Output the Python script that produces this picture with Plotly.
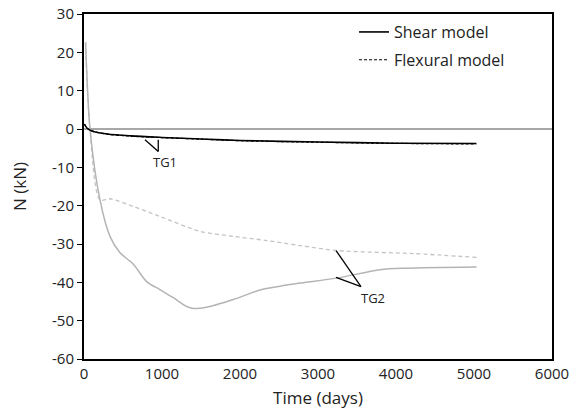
import plotly.graph_objects as go

# TG1 (black)
tg1_shear_x = [5, 40, 100, 300, 600, 1000, 1500, 2000, 3000, 4000, 5030]
tg1_shear_y = [1.3, 0.2, -0.5, -1.3, -1.8, -2.2, -2.6, -3.0, -3.4, -3.7, -3.8]
tg1_flex_x = [5, 40, 100, 300, 600, 1000, 1500, 2000, 3000, 4000, 5030]
tg1_flex_y = [1.3, 0.2, -0.5, -1.35, -1.85, -2.25, -2.65, -3.05, -3.45, -3.75, -3.9]

# TG2 (grey)
tg2_shear_x = [20, 77, 205, 333, 462, 630, 803, 974, 1145, 1316, 1402, 1573, 1914,
               2256, 2513, 2769, 3239, 3795, 4137, 5034]
tg2_shear_y = [22.6, 0, -18.5, -28, -32.3, -35.2, -39.8, -41.9, -44, -46.3, -46.8, -46.5, -44.5,
               -42.0, -41.0, -40.2, -38.9, -36.7, -36.3, -36.0]
tg2_flex_x = [20, 77, 205, 333, 630, 974, 1487, 1914, 2342, 2769, 3239, 4222, 5034]
tg2_flex_y = [22.6, 0, -18.5, -18.2, -20.2, -22.8, -26.7, -28, -29.1, -30.4, -31.7, -32.5, -33.5]

x_ticks = [0, 1000, 2000, 3000, 4000, 5000, 6000]
y_ticks = [30, 20, 10, 0, -10, -20, -30, -40, -50, -60]
y_tick_text = ["30", "20", "10", "0", "-10", "-20", "-30", "-40", "-50", "-60"]

FONT = "Open Sans"
fig = go.Figure()

fig.add_trace(go.Scatter(x=tg2_flex_x, y=tg2_flex_y, mode="lines", line=dict(color="#c4c4c4", width=1.3, dash="4px,3px", shape="spline", smoothing=0.8), showlegend=False))
fig.add_trace(go.Scatter(x=tg2_shear_x, y=tg2_shear_y, mode="lines", line=dict(color="#b4b4b4", width=1.5, shape="spline", smoothing=0.8), showlegend=False))
fig.add_trace(go.Scatter(x=tg1_shear_x, y=tg1_shear_y, mode="lines", name="Shear model", legendgroup="a", line=dict(color="black", width=1.6, shape="spline", smoothing=0.8)))
fig.add_trace(go.Scatter(x=tg1_flex_x, y=tg1_flex_y, mode="lines", name="Flexural model", legendgroup="b", line=dict(color="black", width=1.2, dash="3px,2px", shape="spline", smoothing=0.8)))

# leader lines for labels
lines = [
    ((782, -2.8), (952, -5.85)),
    ((952, -2.8), (952, -5.85)),
    ((3231, -31.7), (3551, -41.1)),
    ((3231, -38.7), (3551, -41.1)),
]
for (x0, y0), (x1, y1) in lines:
    fig.add_shape(type="line", x0=x0, y0=y0, x1=x1, y1=y1, xref="x", yref="y", line=dict(color="black", width=1.3))

fig.add_annotation(x=952, y=-5.85, text="TG1", showarrow=False, yanchor="top", xanchor="left", xshift=-7, yshift=0, font=dict(family=FONT, size=13, color="#222"))
fig.add_annotation(x=3551, y=-41.1, text="TG2", showarrow=False, yanchor="top", xanchor="left", xshift=-2, yshift=0, font=dict(family=FONT, size=13, color="#222"))

fig.update_layout(
    width=582, height=413,
    margin=dict(l=84, r=30, t=14, b=54, autoexpand=False),
    paper_bgcolor="white", plot_bgcolor="white",
    font=dict(family=FONT, size=15, color="#222"),
    legend=dict(x=0.577, y=0.997, xanchor="left", yanchor="top", bgcolor="rgba(0,0,0,0)",
                font=dict(family=FONT, size=16, color="#222"), tracegroupgap=4),
    xaxis=dict(range=[0, 6000], tickvals=x_ticks, ticks="", showgrid=False, zeroline=False,
               showline=True, linecolor="black", linewidth=1.5, mirror=True, automargin=False,
               title=dict(text="Time (days)", font=dict(family=FONT, size=17), standoff=10),
               tickfont=dict(family=FONT, size=15)),
    yaxis=dict(range=[-60, 30], tickvals=y_ticks, ticktext=y_tick_text, ticks="outside", ticklen=5, tickcolor="black",
               showgrid=False, zeroline=True, zerolinecolor="#a8a8a8", zerolinewidth=1.5,
               showline=True, linecolor="black", linewidth=2, mirror=True, automargin=False,
               title=dict(text="N (kN)", font=dict(family=FONT, size=17), standoff=21),
               tickfont=dict(family=FONT, size=15)),
)

fig.write_html("out.html", config={"displayModeBar": False},
               post_script="document.body.style.margin='0';")
